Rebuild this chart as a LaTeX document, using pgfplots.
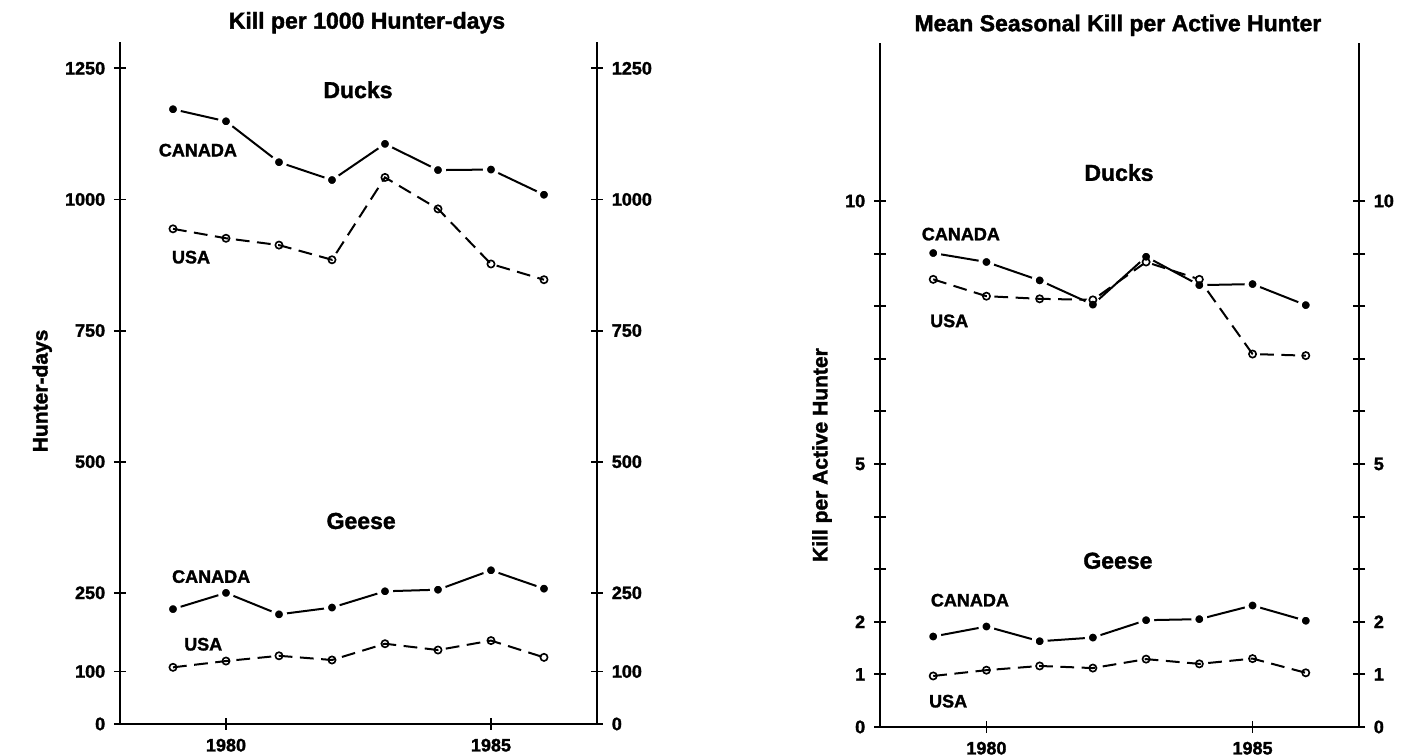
\documentclass[border=0pt]{standalone}
\usepackage{fontspec}
\setmainfont{Liberation Sans}[BoldFeatures={FakeBold=1.6}]
\usepackage{pgfplots}
\pgfplotsset{compat=1.18}

\pgfplotsset{
  panel/.style={
    scale only axis, anchor=south west,
    xmin=1978, xmax=1987, ymin=0,
    axis line style={line width=0.9pt, black},
    tick align=center, major tick length=4.8pt,
    tick style={line width=0.75pt, black},
    ticklabel style={font=\fontsize{7.2}{8}\selectfont\bfseries},
    /pgf/number format/assume math mode=true,
    /pgf/number format/1000 sep={},
    clip=false,
  },
  canada/.style={black, line width=0.8pt, solid, mark=*, mark size=2.4pt,
    mark options={fill=black, draw=white, line width=1.6pt, solid}},
  usa/.style={black, line width=0.8pt, dash pattern=on 5.5pt off 3pt, mark=o, mark size=1.45pt,
    mark options={fill=white, draw=black, line width=0.65pt, solid}},
}
\newcommand{\bigtxt}{\fontsize{9.2}{11}\selectfont\bfseries}
\newcommand{\lab}{\fontsize{7.2}{8.5}\selectfont\bfseries}
\newcommand{\ylab}{\fontsize{8.4}{10}\selectfont\bfseries}

\begin{document}
\begin{tikzpicture}
\useasboundingbox (0,0) rectangle (20cm,10.6039cm);

% ---- left panel: kill per 1000 hunter-days
\begin{axis}[panel, at={(1.6854cm,0.4354cm)}, width=6.6994cm, height=9.577cm,
  ymax=1300, axis x line*=bottom, axis y line*=left,
  xtick={1980,1985}, ytick={0,100,250,500,750,1000,1250}]
  \addplot[canada] coordinates {(1979,1172)(1980,1149)(1981,1071)(1982,1037)(1983,1106)(1984,1056)(1985,1057)(1986,1009)};
  \addplot[usa] coordinates {(1979,944)(1980,926)(1981,913)(1982,885)(1983,1042)(1984,982)(1985,877)(1986,847)};
  \addplot[canada] coordinates {(1979,219)(1980,250)(1981,209)(1982,222)(1983,253)(1984,256)(1985,293)(1986,258)};
  \addplot[usa] coordinates {(1979,108)(1980,120)(1981,130)(1982,122)(1983,153)(1984,141)(1985,159)(1986,127)};
  \node[font=\bigtxt] at (axis cs:1982.66,1337) {Kill per 1000 Hunter-days};
  \node[font=\bigtxt] at (axis cs:1982.49,1209) {Ducks};
  \node[font=\lab] at (axis cs:1979.47,1094) {CANADA};
  \node[font=\lab] at (axis cs:1979.34,890) {USA};
  \node[font=\bigtxt] at (axis cs:1982.55,387) {Geese};
  \node[font=\lab] at (axis cs:1979.72,281) {CANADA};
  \node[font=\lab] at (axis cs:1979.57,152) {USA};
  \node[font=\ylab, rotate=90] at (axis cs:1976.53,635) {Hunter-days};
\end{axis}
\begin{axis}[panel, at={(1.6854cm,0.4354cm)}, width=6.6994cm, height=9.577cm,
  ymax=1300, axis x line=none, axis y line*=right,
  ytick={0,100,250,500,750,1000,1250}]
\end{axis}

% ---- right panel: mean seasonal kill per active hunter
\begin{axis}[panel, at={(12.3595cm,0.3933cm)}, width=6.7275cm, height=9.604cm,
  ymax=13, axis x line*=bottom, axis y line*=left,
  xtick={1980,1985}, ytick={0,...,10}, yticklabels={0,1,2,,,5,,,,,10}]
  \addplot[canada] coordinates {(1979,9.01)(1980,8.84)(1981,8.49)(1982,8.03)(1983,8.94)(1984,8.40)(1985,8.42)(1986,8.02)};
  \addplot[usa] coordinates {(1979,8.51)(1980,8.19)(1981,8.14)(1982,8.12)(1983,8.84)(1984,8.51)(1985,7.09)(1986,7.06)};
  \addplot[canada] coordinates {(1979,1.72)(1980,1.91)(1981,1.63)(1982,1.70)(1983,2.03)(1984,2.05)(1985,2.31)(1986,2.02)};
  \addplot[usa] coordinates {(1979,0.97)(1980,1.08)(1981,1.16)(1982,1.12)(1983,1.29)(1984,1.20)(1985,1.30)(1986,1.03)};
  \node[font=\bigtxt] at (axis cs:1982.47,13.34) {Mean Seasonal Kill per Active Hunter};
  \node[font=\bigtxt] at (axis cs:1982.49,10.54) {Ducks};
  \node[font=\lab] at (axis cs:1979.52,9.37) {CANADA};
  \node[font=\lab] at (axis cs:1979.30,7.72) {USA};
  \node[font=\bigtxt] at (axis cs:1982.47,3.16) {Geese};
  \node[font=\lab] at (axis cs:1979.69,2.41) {CANADA};
  \node[font=\lab] at (axis cs:1979.28,0.49) {USA};
  \node[font=\ylab, rotate=90] at (axis cs:1976.91,5.17) {Kill per Active Hunter};
\end{axis}
\begin{axis}[panel, at={(12.3595cm,0.3933cm)}, width=6.7275cm, height=9.604cm,
  ymax=13, axis x line=none, axis y line*=right,
  ytick={0,...,10}, yticklabels={0,1,2,,,5,,,,,10}]
\end{axis}
\end{tikzpicture}
\end{document}
